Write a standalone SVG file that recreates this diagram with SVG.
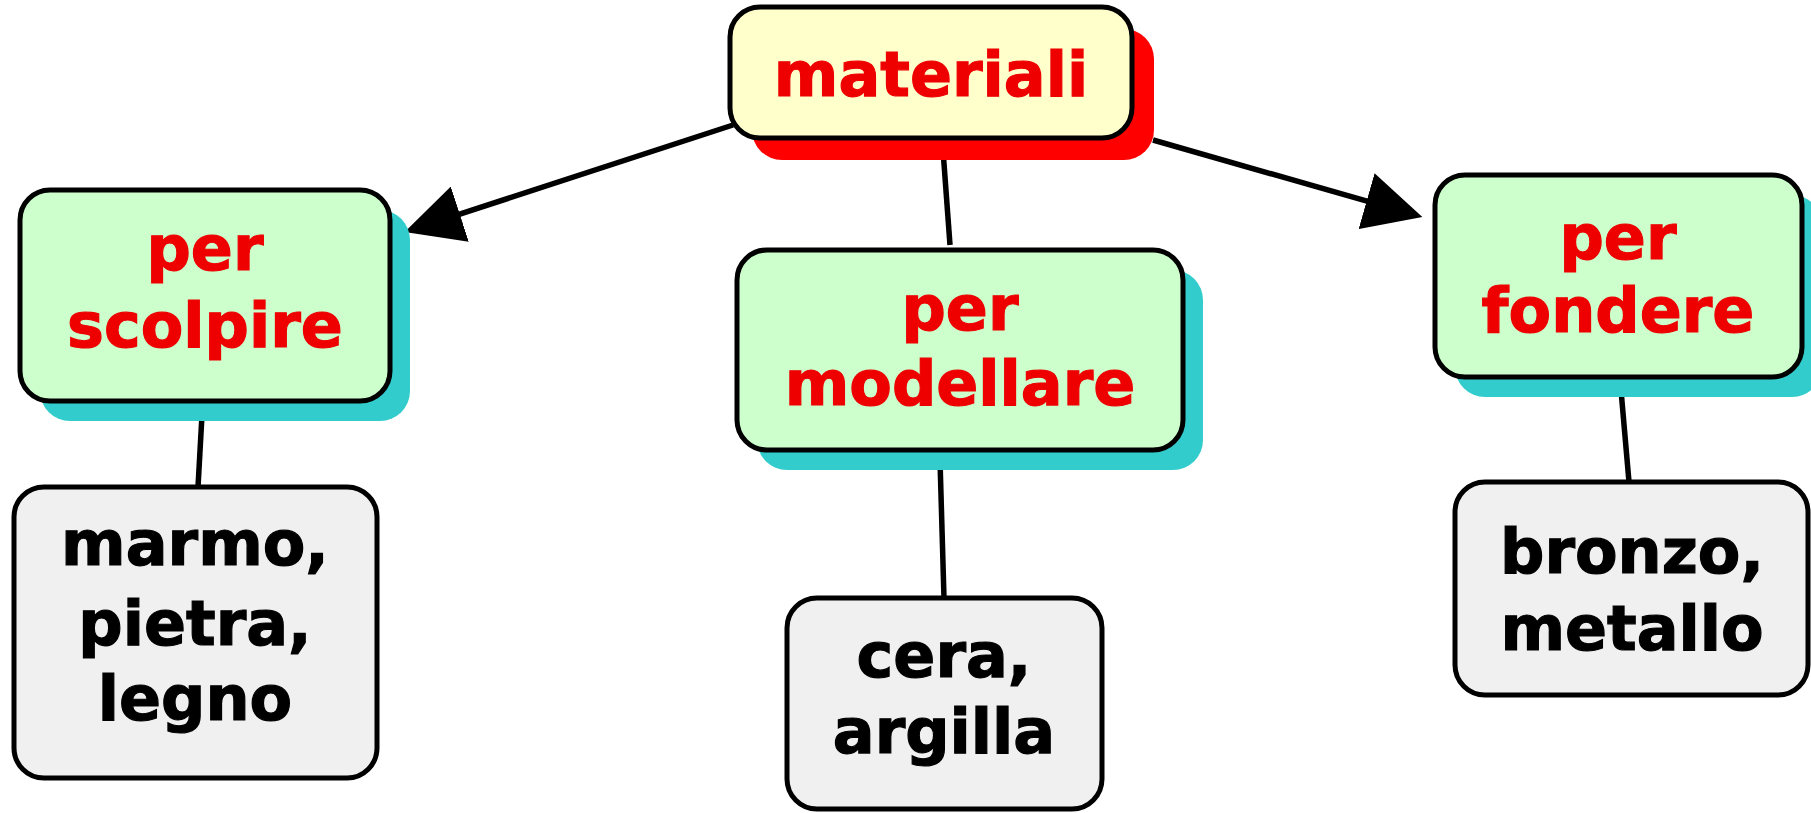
<svg xmlns="http://www.w3.org/2000/svg" width="1811" height="813" viewBox="0 0 1811 813">
<style>
  .box { stroke: #000; stroke-width: 5; }
  .main { fill: #FFFFCC; }
  .mid { fill: #CCFFCC; }
  .leaf { fill: #F0F0F0; }
  .shred { fill: #FF0000; }
  .shteal { fill: #33CCCC; }
  .lbl { font-family: "DejaVu Sans", Verdana, sans-serif; font-weight: bold; font-size: 62px; text-anchor: middle; stroke-width: 1.2; }
  .red { fill: #EE0000; stroke: #EE0000; }
  .blk { fill: #000; stroke: #000; }
  .conn { stroke: #000; stroke-width: 5.5; fill: none; }
</style>
<defs>
  <marker id="arrow" markerUnits="userSpaceOnUse" markerWidth="58" markerHeight="58" viewBox="0 0 56 56" refX="46" refY="28" orient="auto">
    <path d="M0,0 L56,28 L0,56 z" fill="#000"/>
  </marker>
</defs>
<rect width="1811" height="813" fill="#FFFFFF"/>
<g id="connectors">
  <line class="conn" x1="733" y1="125" x2="414.5" y2="228.9" marker-end="url(#arrow)"/>
  <line class="conn" x1="1153" y1="140" x2="1412.4" y2="214.2" marker-end="url(#arrow)"/>
  <line class="conn" x1="943" y1="150" x2="950" y2="245"/>
  <line class="conn" x1="202" y1="415" x2="198" y2="487"/>
  <line class="conn" x1="940" y1="460" x2="944" y2="598"/>
  <line class="conn" x1="1621" y1="390" x2="1629" y2="482"/>
</g>
<g id="node-materiali">
  <rect class="shred" x="752" y="29" width="402" height="131" rx="30"/>
  <rect class="box main" x="730" y="7" width="402" height="131" rx="30"/>
  <text class="lbl red" x="931" y="96">materiali</text>
</g>
<g id="node-per-scolpire">
  <rect class="shteal" x="40" y="210" width="370" height="211" rx="30"/>
  <rect class="box mid" x="20" y="190" width="370" height="211" rx="30"/>
  <text class="lbl red" x="205" y="270">per</text>
  <text class="lbl red" x="205" y="347">scolpire</text>
</g>
<g id="node-per-modellare">
  <rect class="shteal" x="757" y="270" width="446" height="200" rx="30"/>
  <rect class="box mid" x="737" y="250" width="446" height="200" rx="30"/>
  <text class="lbl red" x="960" y="330">per</text>
  <text class="lbl red" x="960" y="405">modellare</text>
</g>
<g id="node-per-fondere">
  <rect class="shteal" x="1455" y="195" width="367" height="202" rx="30"/>
  <rect class="box mid" x="1435" y="175" width="367" height="202" rx="30"/>
  <text class="lbl red" x="1618" y="259">per</text>
  <text class="lbl red" x="1618" y="332">fondere</text>
</g>
<g id="node-marmo">
  <rect class="box leaf" x="14" y="487" width="363" height="291" rx="30"/>
  <text class="lbl blk" x="195" y="565">marmo,</text>
  <text class="lbl blk" x="195" y="645">pietra,</text>
  <text class="lbl blk" x="195" y="720">legno</text>
</g>
<g id="node-cera">
  <rect class="box leaf" x="787" y="598" width="315" height="211" rx="30"/>
  <text class="lbl blk" x="944" y="677">cera,</text>
  <text class="lbl blk" x="944" y="753">argilla</text>
</g>
<g id="node-bronzo">
  <rect class="box leaf" x="1455" y="482" width="353" height="213" rx="30"/>
  <text class="lbl blk" x="1632" y="573">bronzo,</text>
  <text class="lbl blk" x="1632" y="650">metallo</text>
</g>
</svg>
